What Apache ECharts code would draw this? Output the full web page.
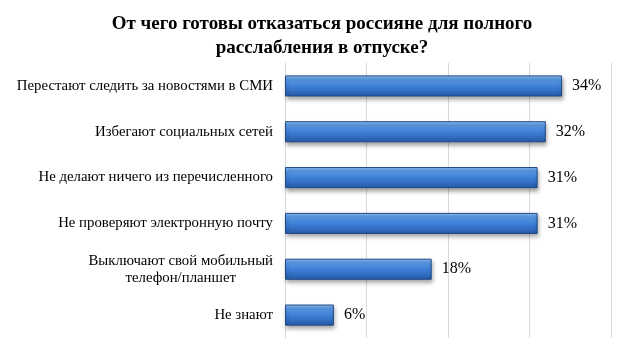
<!DOCTYPE html>
<html><head><meta charset="utf-8">
<script src="https://cdn.jsdelivr.net/npm/echarts@6/dist/echarts.min.js"></script>
<style>html,body{margin:0;padding:0;background:#fff}#c{width:644px;height:362px}</style>
</head><body><div id="c"></div>
<script>
var titleText = 'От чего готовы отказаться россияне для полного\nрасслабления в отпуске?';
var categories = [
  'Перестают следить за новостями в СМИ',
  'Избегают социальных сетей',
  'Не делают ничего из перечисленного',
  'Не проверяют электронную почту',
  'Выключают свой мобильный\nтелефон/планшет',
  'Не знают'
];
var values = [34, 32, 31, 31, 18, 6];
var axisMin = 0, axisMax = 40, axisStep = 10;

var chart = echarts.init(document.getElementById('c'));
var serif = '"Liberation Serif","Times New Roman",serif';
chart.setOption({
  animation: false,
  backgroundColor: '#fff',
  title: {
    text: titleText, left: 'center', top: 7,
    textStyle: {fontFamily: serif, fontWeight: 'bold', fontSize: 19, lineHeight: 24, color: '#000'}
  },
  grid: {left: 285, right: 33, top: 63, bottom: 24},
  xAxis: {
    type: 'value', min: axisMin, max: axisMax, interval: axisStep,
    axisLabel: {show: false}, axisTick: {show: false}, axisLine: {show: false},
    splitLine: {lineStyle: {color: '#d9d9d9', width: 1}}
  },
  yAxis: {
    type: 'category', inverse: true, data: categories,
    axisTick: {show: false},
    axisLine: {lineStyle: {color: '#d9d9d9'}},
    axisLabel: {
      margin: 12, color: '#000', fontFamily: serif, fontSize: 14.8,
      formatter: function (v) {
        return v.split('\n').map(function (s) { return '{c|' + s + '}'; }).join('\n');
      },
      rich: {c: {align: 'center', fontFamily: serif, fontSize: 14.8, lineHeight: 17, color: '#000'}}
    }
  },
  series: [{
    type: 'bar', data: values, barCategoryGap: '54%',
    itemStyle: {
      color: new echarts.graphic.LinearGradient(0, 0, 0, 1, [
        {offset: 0, color: '#9fc6f2'},
        {offset: 0.15, color: '#5f9ee8'},
        {offset: 0.55, color: '#3b7dd6'},
        {offset: 1, color: '#2659a6'}
      ]),
      borderColor: '#1f4a85', borderWidth: 1,
      shadowColor: 'rgba(0,0,0,0.35)', shadowBlur: 4, shadowOffsetY: 3, shadowOffsetX: 1
    },
    label: {
      show: true, position: 'right', distance: 10,
      formatter: '{c}%', fontFamily: serif, fontSize: 16, color: '#000'
    }
  }]
});
</script></body></html>
